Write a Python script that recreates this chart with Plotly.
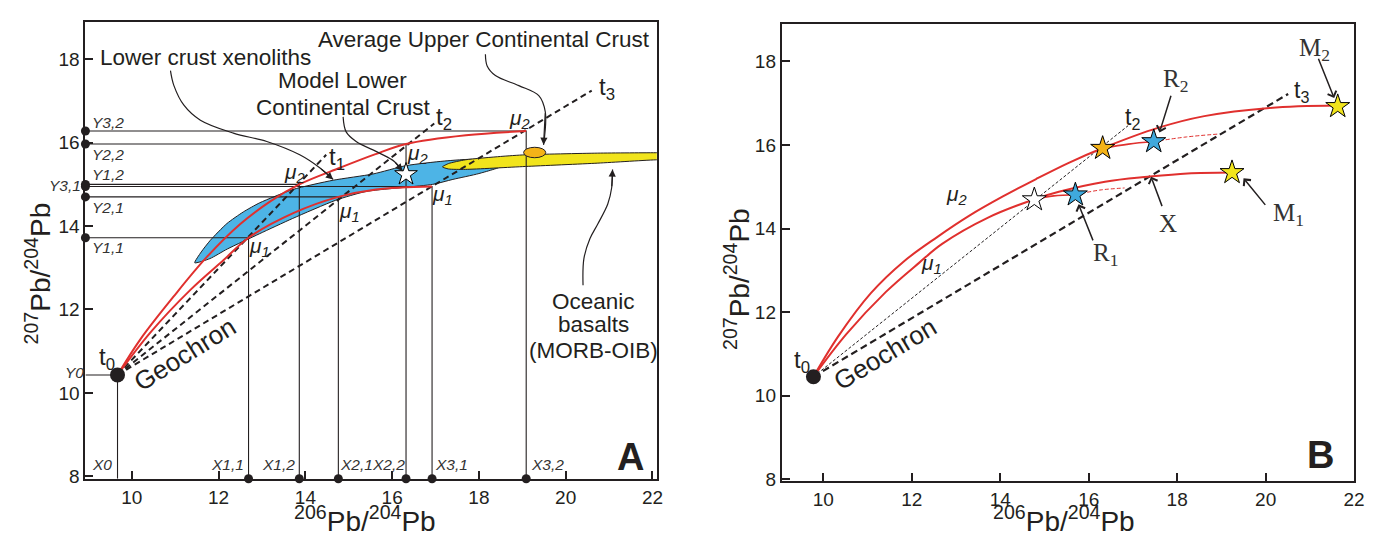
import plotly.graph_objects as go

# ================= DATA : panel A =================
A_X_RANGE = [8.93, 22.1]
A_Y_RANGE = [7.94, 18.9]
A_TICKS_X = [10, 12, 14, 16, 18, 20, 22]
A_TICKS_Y = [8, 10, 12, 14, 16, 18]

t0_A_x = 9.67
t0_A_y = 10.43

# model points (mu1/mu2 at t1, t2, t3)
mu_pts_A_x = [12.69, 13.86, 14.76, 16.32, 16.92, 19.09]
mu_pts_A_y = [13.72, 15.00, 14.70, 15.97, 14.95, 16.28]
mu_pts_x_labels = ["X1,1", "X1,2", "X2,1", "X2,2", "X3,1", "X3,2"]
mu_pts_y_labels = ["Y1,1", "Y1,2", "Y2,1", "Y2,2", "Y3,1", "Y3,2"]

growth_mu1_A_x = [9.67, 10.43, 11.35, 12.11, 12.69, 13.72, 14.76, 15.63, 16.92]
growth_mu1_A_y = [10.43, 11.45, 12.47, 13.18, 13.72, 14.31, 14.70, 14.88, 14.95]
growth_mu2_A_x = [9.67, 10.20, 10.97, 11.73, 12.50, 13.20, 13.86, 14.80, 15.60, 16.32, 17.70, 19.09]
growth_mu2_A_y = [10.43, 11.29, 12.32, 13.26, 14.05, 14.60, 15.00, 15.40, 15.72, 15.97, 16.18, 16.28]

isochron_A_end_x = [14.48, 16.97, 20.60]
isochron_A_end_y = [15.71, 16.46, 17.25]
isochron_A_names = ["t<sub>1</sub>", "t<sub>2</sub>", "t<sub>3</sub>"]

xenolith_x = [11.45, 11.60, 11.81, 12.19, 12.57, 12.95, 13.72, 14.64, 15.56, 16.32, 17.20, 17.90, 18.55,
              18.00, 17.40, 16.93, 15.40, 14.70, 13.70, 12.95, 12.20, 11.80, 11.45]
xenolith_y = [13.12, 13.38, 13.66, 14.06, 14.34, 14.56, 14.88, 15.10, 15.25, 15.45, 15.56, 15.60, 15.45,
              15.26, 15.12, 15.00, 14.83, 14.62, 14.18, 13.82, 13.45, 13.22, 13.12]

basalt_x = [17.16, 17.30, 17.69, 18.50, 19.07, 20.74, 22.12, 22.40,
            22.40, 22.12, 20.74, 19.07, 17.69, 17.30, 17.16]
basalt_y = [15.42, 15.50, 15.59, 15.67, 15.71, 15.75, 15.76, 15.76,
            15.58, 15.59, 15.51, 15.43, 15.36, 15.37, 15.42]

upper_crust_x = [19.03, 19.54]
upper_crust_y = [15.64, 15.89]

model_lcc_x = [16.32]
model_lcc_y = [15.24]

# ================= DATA : panel B =================
B_X_RANGE = [9.06, 22.0]
B_Y_RANGE = [7.96, 18.9]

t0_B_x = 9.776
t0_B_y = 10.454

growth_mu1_B_x = [9.776, 10.515, 11.409, 12.170, 12.685, 13.736, 14.743, 15.324, 16.369, 17.336, 18.233, 19.239]
growth_mu1_B_y = [10.454, 11.466, 12.478, 13.184, 13.631, 14.266, 14.689, 14.878, 15.120, 15.238, 15.318, 15.341]
growth_mu2_B_x = [9.776, 10.336, 11.074, 11.812, 12.573, 13.311, 14.049, 14.810, 15.548, 16.309, 17.562, 18.613, 20.089, 21.626]
growth_mu2_B_y = [10.454, 11.419, 12.454, 13.207, 13.795, 14.313, 14.760, 15.184, 15.572, 15.920, 16.407, 16.689, 16.885, 16.941]

branch1_x = [14.743, 15.21, 15.698]
branch1_y = [14.689, 14.78, 14.807]
branch1_dash_x = [15.698, 16.25, 16.81]
branch1_dash_y = [14.807, 14.92, 14.97]
branch2_x = [16.315, 16.90, 17.47]
branch2_y = [15.920, 16.02, 16.08]
branch2_dash_x = [17.47, 18.20, 18.93]
branch2_dash_y = [16.08, 16.19, 16.26]

t2_B_end = (16.89, 16.46)
t3_B_end = (20.51, 17.22)

star_white_B = (14.77, 14.69)
star_orange_B = (16.315, 15.92)
star_R1 = (15.698, 14.807)
star_R2 = (17.47, 16.08)
star_M1 = (19.24, 15.34)
star_M2 = (21.63, 16.92)

# ================= STYLE =================
INK = "#231f20"
RED = "#e0302e"
BLUE = "#4db4e6"
YELLOW = "#f1e41c"
ORANGE = "#f4b318"
SANS = "Liberation Sans, Arial, sans-serif"
SERIF = "Liberation Serif, Times New Roman, serif"

fig = go.Figure()


def line(x, y, ax, color=INK, width=1, dash=None, shape="linear", **kw):
    xa, ya = ("x", "y") if ax == "A" else ("x2", "y2")
    fig.add_trace(go.Scatter(x=x, y=y, mode="lines", xaxis=xa, yaxis=ya,
                             line=dict(color=color, width=width, dash=dash, shape=shape),
                             showlegend=False, hoverinfo="skip", **kw))


def marks(x, y, ax, symbol="circle", size=8, color=INK, lw=0, clip=True):
    xa, ya = ("x", "y") if ax == "A" else ("x2", "y2")
    fig.add_trace(go.Scatter(x=x, y=y, mode="markers", xaxis=xa, yaxis=ya,
                             marker=dict(symbol=symbol, size=size, color=color,
                                         line=dict(color="black", width=lw)),
                             cliponaxis=clip, showlegend=False, hoverinfo="skip"))


annotations = []


def text(t, x, y, ax="A", size=16, font=SANS, angle=0, color=INK, xanchor="center",
         yanchor="middle", xref=None):
    xr, yr = ("x", "y") if ax == "A" else ("x2", "y2")
    annotations.append(dict(text=t, x=x, y=y, xref=xref or xr, yref=yr, showarrow=False,
                            font=dict(size=size, family=font, color=color),
                            textangle=angle, xanchor=xanchor, yanchor=yanchor))


def arrow(x, y, tx, ty, ax="A", head=2, size=1.1, width=1.3):
    xr, yr = ("x", "y") if ax == "A" else ("x2", "y2")
    annotations.append(dict(text="", x=x, y=y, xref=xr, yref=yr, ax=tx, ay=ty,
                            axref=xr, ayref=yr, showarrow=True, arrowhead=head,
                            arrowsize=size, arrowwidth=width, arrowcolor=INK, standoff=0))


# ---------------- Panel A ----------------
xmin, ymin = A_X_RANGE[0], A_Y_RANGE[0]
fig.add_trace(go.Scatter(x=xenolith_x, y=xenolith_y, mode="lines", fill="toself", fillcolor=BLUE,
                         line=dict(color=INK, width=1, shape="spline", smoothing=0.6),
                         xaxis="x", yaxis="y", showlegend=False, hoverinfo="skip"))
fig.add_trace(go.Scatter(x=basalt_x, y=basalt_y, mode="lines", fill="toself", fillcolor=YELLOW,
                         line=dict(color=INK, width=1, shape="spline", smoothing=0.6),
                         xaxis="x", yaxis="y", showlegend=False, hoverinfo="skip"))

# projection lines onto the axes
px, py = [xmin, t0_A_x, t0_A_x, None], [t0_A_y, t0_A_y, ymin, None]
for xv, yv in zip(mu_pts_A_x, mu_pts_A_y):
    px += [xmin, xv, xv, None]
    py += [yv, yv, ymin, None]
line(px, py, "A", width=1.1)

for ex, ey in zip(isochron_A_end_x, isochron_A_end_y):
    line([t0_A_x, ex], [t0_A_y, ey], "A", width=2, dash="6px,4px")

line(growth_mu1_A_x, growth_mu1_A_y, "A", color=RED, width=2, shape="spline")
line(growth_mu2_A_x, growth_mu2_A_y, "A", color=RED, width=2, shape="spline")

marks(mu_pts_A_x, [ymin] * len(mu_pts_A_x), "A", size=9, clip=False)
marks([xmin] * len(mu_pts_A_y), mu_pts_A_y, "A", size=9, clip=False)
marks([t0_A_x], [t0_A_y], "A", size=15)
marks(model_lcc_x, model_lcc_y, "A", symbol="star", size=17, color="white", lw=1)

# curved pointers (A)
xeno_arrow_x = [10.89, 10.97, 11.20, 11.58, 12.34, 13.11, 13.87, 14.33, 14.64]
xeno_arrow_y = [17.73, 17.37, 16.90, 16.54, 16.23, 16.03, 15.71, 15.40, 15.12]
lcc_arrow_x = [14.87, 14.94, 15.17, 15.71, 16.05, 16.24]
lcc_arrow_y = [16.62, 16.26, 16.03, 15.75, 15.55, 15.32]
ucc_arrow_x = [18.15, 18.19, 18.38, 18.92, 19.38, 19.53, 19.49]
ucc_arrow_y = [18.12, 17.84, 17.61, 17.37, 17.13, 16.74, 15.95]
ocean_arrow_x = [20.40, 20.42, 20.56, 20.74, 20.97, 21.06, 21.08]
ocean_arrow_y = [12.58, 13.22, 13.70, 14.05, 14.53, 14.92, 15.36]
for ax_, ay_ in [(xeno_arrow_x, xeno_arrow_y), (lcc_arrow_x, lcc_arrow_y),
                 (ucc_arrow_x, ucc_arrow_y), (ocean_arrow_x, ocean_arrow_y)]:
    line(ax_, ay_, "A", width=1.2, shape="spline")
    arrow(ax_[-1], ay_[-1], ax_[-2], ay_[-2], "A", head=2, size=1.2, width=1.2)

# labels (A)
DESC = 22.5
text("Lower crust xenoliths", 11.69, 18.04, size=DESC)
text("Average Upper Continental Crust", 18.11, 18.48, size=DESC)
text("Model Lower", 14.85, 17.49, size=DESC)
text("Continental Crust", 14.87, 16.85, size=DESC)
text("Oceanic", 20.63, 12.20, size=DESC)
text("basalts", 20.63, 11.64, size=DESC)
text("(MORB-OIB)", 20.63, 11.02, size=DESC)
text("Geochron", 11.23, 10.92, size=26, angle=-32)
text("t<sub>0</sub>", 9.42, 10.83, size=24)
for (lx, ly), nm in zip([(14.72, 15.62), (17.19, 16.59), (20.95, 17.30)], isochron_A_names):
    text(nm, lx, ly, size=24)
mu_lab = [("1", 12.95, 13.51), ("2", 13.75, 15.28), ("1", 15.01, 14.34),
          ("2", 16.59, 15.73), ("1", 17.17, 14.74), ("2", 18.93, 16.56)]
for s, lx, ly in mu_lab:
    text("<i>μ</i><sub><i>%s</i></sub>" % s, lx, ly, size=21)
xlab_pos = [12.20, 13.39, 15.17, 15.91, 17.37, 19.58]
for nm, lx in zip(mu_pts_x_labels, xlab_pos):
    text("<i>%s</i>" % nm, lx, 8.29, size=15.5, color="#333")
text("<i>X0</i>", 9.32, 8.29, size=15.5, color="#333")
ylab_pos = {"Y1,1": (9.46, 13.48), "Y1,2": (9.46, 15.24), "Y2,1": (9.46, 14.45),
            "Y2,2": (9.46, 15.71), "Y3,2": (9.46, 16.49)}
for nm in mu_pts_y_labels:
    if nm in ylab_pos:
        lx, ly = ylab_pos[nm]
        text("<i>%s</i>" % nm, lx, ly, size=15.5, color="#333")
# labels just left of the axis (x in paper units so they are not dropped)
text("<i>Y3,1</i>", 0.0415, 14.98, size=15.5, color="#333", xref="paper")
text("<i>Y0</i>", 0.0488, 10.50, size=15.5, color="#333", xref="paper")
text("<b>A</b>", 21.5, 8.46, size=38)

# ---------------- Panel B ----------------
line([t0_B_x, t2_B_end[0]], [t0_B_y, t2_B_end[1]], "B", width=1, dash="3px,2px")
line([t0_B_x, t3_B_end[0]], [t0_B_y, t3_B_end[1]], "B", width=2.2, dash="7px,4px")
line(growth_mu1_B_x, growth_mu1_B_y, "B", color=RED, width=2, shape="spline")
line(growth_mu2_B_x, growth_mu2_B_y, "B", color=RED, width=2, shape="spline")
line(branch1_x, branch1_y, "B", color=RED, width=1.6, shape="spline")
line(branch2_x, branch2_y, "B", color=RED, width=1.6, shape="spline")
line(branch1_dash_x, branch1_dash_y, "B", color=RED, width=1, dash="4px,2px", shape="spline")
line(branch2_dash_x, branch2_dash_y, "B", color=RED, width=1, dash="4px,2px", shape="spline")
marks([t0_B_x], [t0_B_y], "B", size=15)
for (sx, sy), col in [(star_white_B, "white"), (star_orange_B, ORANGE), (star_R1, "#3fa9dd"),
                      (star_R2, "#3fa9dd"), (star_M1, YELLOW), (star_M2, YELLOW)]:
    marks([sx], [sy], "B", symbol="star", size=18, color=col, lw=1, clip=False)

text("t<sub>0</sub>", 9.51, 10.83, ax="B", size=24)
text("Geochron", 11.39, 11.0, ax="B", size=26, angle=-31)
text("t<sub>2</sub>", 17.0, 16.64, ax="B", size=23)
text("t<sub>3</sub>", 20.81, 17.28, ax="B", size=23)
text("<i>μ</i><sub><i>2</i></sub>", 13.02, 14.80, ax="B", size=21)
text("<i>μ</i><sub><i>1</i></sub>", 12.44, 13.14, ax="B", size=21)
text("R<sub>2</sub>", 17.96, 17.54, ax="B", size=25, font=SERIF, color="#333")
text("R<sub>1</sub>", 16.38, 13.37, ax="B", size=25, font=SERIF, color="#333")
text("X", 17.79, 14.12, ax="B", size=25, font=SERIF, color="#333")
text("M<sub>1</sub>", 20.51, 14.34, ax="B", size=25, font=SERIF, color="#333")
text("M<sub>2</sub>", 21.10, 18.29, ax="B", size=25, font=SERIF, color="#333")
arrow(17.60, 16.30, 17.87, 17.21, "B", head=4, size=1.2, width=1.5)
arrow(15.77, 14.58, 16.11, 13.68, "B", head=4, size=1.2, width=1.5)
arrow(17.41, 15.24, 17.67, 14.50, "B", head=4, size=1.2, width=1.5)
arrow(19.50, 15.20, 20.02, 14.53, "B", head=4, size=1.2, width=1.5)
arrow(21.55, 17.12, 21.18, 18.10, "B", head=4, size=1.2, width=1.5)
text("<b>B</b>", 21.25, 8.57, ax="B", size=38)

# axis titles
for xp, yp, t, ang, ya in [(0.022, 0.50, "<sup>207</sup>Pb/<sup>204</sup>Pb", -90, "middle"),
                           (0.262, 0.0, "<sup>206</sup>Pb/<sup>204</sup>Pb", 0, "bottom"),
                           (0.535, 0.49, "<sup>207</sup>Pb/<sup>204</sup>Pb", -90, "middle"),
                           (0.775, 0.0, "<sup>206</sup>Pb/<sup>204</sup>Pb", 0, "bottom")]:
    annotations.append(dict(text=t, x=xp, y=yp, xref="paper", yref="paper", showarrow=False,
                            textangle=ang, xanchor="center", yanchor=ya,
                            font=dict(size=28, family=SANS, color=INK)))

axis_common = dict(ticks="inside", ticklen=8, tickwidth=1.5, tickcolor=INK, showline=True,
                   linewidth=2, linecolor=INK, mirror=True, showgrid=False, zeroline=False,
                   tickfont=dict(size=19, family=SANS, color=INK))

fig.update_layout(
    width=1374, height=540,
    margin=dict(l=0, r=0, t=0, b=0),
    paper_bgcolor="white", plot_bgcolor="white",
    xaxis=dict(domain=[0.0568, 0.476], range=A_X_RANGE, anchor="y", tickvals=A_TICKS_X, **axis_common),
    yaxis=dict(domain=[0.1135, 0.974], range=A_Y_RANGE, anchor="x", tickvals=A_TICKS_Y, **axis_common),
    xaxis2=dict(domain=[0.5677, 0.9876], range=B_X_RANGE, anchor="y2", tickvals=A_TICKS_X, **axis_common),
    yaxis2=dict(domain=[0.1093, 0.9704], range=B_Y_RANGE, anchor="x2", tickvals=A_TICKS_Y, **axis_common),
    shapes=[dict(type="circle", xref="x", yref="y", x0=upper_crust_x[0], x1=upper_crust_x[1],
                 y0=upper_crust_y[0], y1=upper_crust_y[1], fillcolor=ORANGE,
                 line=dict(color=INK, width=1), layer="above")],
    annotations=annotations,
)

fig.write_html("out.html")
